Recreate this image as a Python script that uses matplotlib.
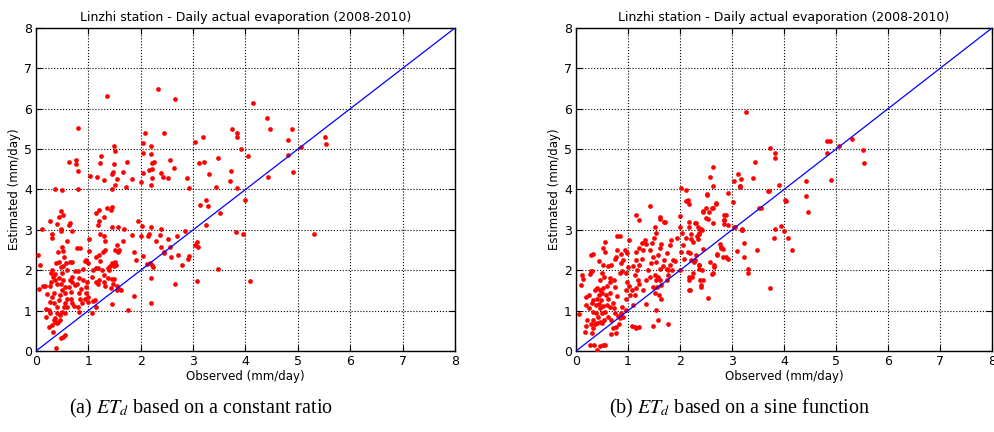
import matplotlib
matplotlib.use("Agg")
import matplotlib.pyplot as plt

# ---------------- data ----------------
title = "Linzhi station - Daily actual evaporation (2008-2010)"
xlabel = "Observed (mm/day)"
ylabel = "Estimated (mm/day)"
captions = [r"(a) $ET_d$ based on a constant ratio", r"(b) $ET_d$ based on a sine function"]
ticks = [0, 1, 2, 3, 4, 5, 6, 7, 8]

# (observed, estimated) pairs, panel (a): constant ratio
points_a = [
    (0.37,4.0),(0.5,3.98),(0.63,4.68),(0.76,4.62),(0.77,4.72),(0.81,4.45),(0.8,5.53),(0.8,4.0),(1.03,4.33),(1.17,4.31),
    (1.25,4.84),(1.23,4.65),(1.29,4.23),(1.36,6.31),(1.45,4.38),(1.49,5.08),(1.5,4.96),(1.49,4.64),(1.48,4.44),(1.5,4.1),
    (1.45,4.02),(1.54,4.25),(1.66,4.44),(1.73,4.69),(1.71,4.07),(1.83,4.25),(2.01,4.19),(2.04,4.4),(2.04,4.9),(2.04,5.15),
    (2.08,5.41),(2.15,4.49),(2.2,5.07),(2.2,4.88),(2.22,4.65),(2.26,4.69),(2.21,4.52),(2.21,4.29),(2.2,4.1),(2.33,6.49),
    (2.38,4.4),(2.43,4.32),(2.45,5.4),(2.52,4.28),(2.55,4.74),(2.65,6.24),(2.64,4.54),(2.89,4.28),(2.93,4.04),(3.04,5.18),
    (3.12,4.66),(3.18,5.31),(3.2,4.68),(3.31,4.38),(3.43,4.06),(3.47,4.78),(3.72,4.45),(3.75,5.5),(3.71,4.21),(3.83,5.41),
    (3.83,5.31),(3.84,4.03),(3.92,5.0),(4.04,4.83),(4.14,6.13),(4.42,5.76),(4.46,5.5),(4.88,5.51),(4.82,5.23),(4.82,4.86),
    (4.91,4.43),(5.06,5.06),(5.52,5.29),(5.54,5.12),(4.43,4.31),
    (4.0,3.74),(3.14,3.61),(3.24,3.73),(3.28,3.58),(3.52,3.41),(3.24,3.13),(3.81,2.95),(3.96,2.91),(5.3,2.89),(3.47,2.04),
    (4.08,1.74),(3.07,1.74),(3.1,2.58),(3.08,2.71),(3.03,2.62),(2.92,2.35),(2.9,2.29),(2.84,2.96),(2.79,2.14),(2.65,1.66),
    (2.71,2.38),(2.69,2.84),(2.58,2.33),(2.53,2.78),(2.56,2.58),(2.45,2.46),(2.39,2.58),(2.44,2.43),(2.38,3.03),(2.37,2.87),
    (2.3,2.72),(2.2,3.07),(2.15,2.89),(2.14,2.85),(2.12,2.15),(2.17,2.17),(2.21,2.13),(2.24,2.07),(2.19,1.8),(2.19,1.19),
    (2.02,3.1),(2.0,2.86),(2.04,2.36),(1.91,2.25),(1.87,1.35),(1.87,2.46),(1.84,2.88),(1.94,3.21),(1.75,1.01),(1.69,3.03),
    (1.67,2.72),(1.59,2.5),(1.57,2.46),(1.55,2.63),(1.5,2.5),(1.46,2.19),(1.5,2.21),(1.53,2.13),(1.49,2.1),(1.42,2.1),
    (1.37,2.06),(1.56,3.08),(1.46,3.08),(1.44,3.49),(1.45,3.57),(1.36,3.54),(1.29,3.32),(1.14,3.42),(1.21,3.48),(1.2,3.22),
    (1.19,3.12),(1.23,2.91),(1.3,2.84),(1.32,2.72),(1.32,2.5),(1.28,2.46),(1.21,2.39),(1.22,2.24),(1.15,2.33),(1.18,2.05),
    (1.14,2.05),(1.02,2.78),(1.01,2.48),(0.96,2.25),(0.93,2.23),(0.99,2.17),(0.89,2.02),(0.75,1.99),(0.81,1.99),(0.78,2.54),
    (0.85,2.55),(0.9,1.76),(0.98,1.71),(1.08,2.0),(1.07,1.84),(1.14,1.71),(1.21,1.77),(1.26,2.0),(1.29,1.88),(1.39,2.0),
    (1.37,1.82),(1.45,1.79),(1.49,1.79),(1.43,1.57),(1.47,1.66),(1.55,1.61),(1.59,1.53),(1.62,1.51),(1.55,1.52),(1.46,1.16),
    (1.31,1.61),(1.29,1.71),(1.18,1.67),(1.12,1.26),(1.09,1.24),(1.15,1.1),(1.07,0.93),(1.0,1.22),(1.0,1.34),(0.95,1.43),
    (0.96,1.59),(0.93,1.3),(0.88,1.18),(0.84,1.29),(0.82,1.43),(0.86,1.53),(0.79,1.67),(0.82,1.8),(0.74,1.63),(0.69,1.71),
    (0.65,1.76),(0.68,1.84),(0.63,1.59),(0.66,1.47),(0.67,1.3),(0.69,1.18),(0.73,1.11),(0.8,1.1),(0.83,0.97),(0.6,1.1),
    (0.56,1.18),(0.6,1.3),(0.56,1.43),(0.56,1.59),(0.52,1.76),(0.5,1.92),(0.47,2.07),(0.52,2.1),(0.58,2.17),(0.64,2.2),
    (0.68,2.2),(0.59,2.0),(0.54,2.33),(0.52,2.48),(0.49,2.58),(0.42,2.46),(0.43,2.21),(0.38,2.19),(0.47,3.03),(0.47,2.98),
    (0.44,3.32),(0.47,3.47),(0.52,3.37),(0.41,3.14),(0.31,2.89),(0.31,2.79),(0.64,3.18),(0.63,3.12),(0.69,2.97),(0.6,2.72),
    (0.26,3.22),(0.12,3.03),(0.03,2.37),(0.08,2.12),(0.05,1.54),(0.13,1.62),(0.17,1.61),(0.21,1.41),(0.2,1.03),(0.24,1.01),
    (0.27,0.93),(0.19,0.85),(0.24,0.6),(0.31,0.64),(0.33,0.48),(0.37,0.82),(0.37,0.73),(0.4,0.95),(0.42,0.71),(0.45,0.89),
    (0.47,0.31),(0.52,0.35),(0.55,0.4),(0.38,0.07),(0.4,0.69),(0.27,1.22),(0.31,1.34),(0.34,1.43),(0.35,1.18),(0.4,1.1),
    (0.43,1.26),(0.45,1.38),(0.5,1.51),(0.47,1.67),(0.37,1.76),(0.33,1.84),(0.29,1.71),(0.26,1.61),(0.4,1.67),(0.43,1.8),
    (0.36,1.9),(0.28,1.92),(0.31,2.0),(0.53,1.1),(0.5,0.97),(0.56,0.93),(0.45,0.77),(0.34,0.77),
]

# (observed, estimated) pairs, panel (b): sine function
points_b = [
    (2.02,4.04),(2.12,3.98),(2.57,4.32),(2.64,4.55),(2.64,4.08),(3.03,4.2),(3.12,4.39),(3.17,4.25),(3.15,4.08),(3.27,5.93),
    (3.41,4.28),(3.45,4.68),(3.74,5.03),(3.82,4.9),(3.82,4.78),(3.9,4.1),(4.43,4.22),(4.82,5.2),(4.89,5.2),(4.82,4.9),
    (5.06,5.07),(5.3,5.25),(5.51,4.97),(5.54,4.66),(4.9,4.23),
    (3.16,4.09),(3.71,3.96),(4.04,3.71),(4.43,3.84),(4.46,3.44),(3.55,3.53),(3.2,3.0),(3.24,2.67),(3.24,2.34),(3.31,2.02),
    (3.31,1.94),(3.49,2.51),(3.73,1.55),(3.8,2.8),(3.83,3.02),(3.95,3.09),(4.0,2.96),(4.08,2.79),(4.15,2.49),
    (2.52,3.89),(2.69,3.66),(2.62,3.55),(2.55,3.45),(2.44,3.46),(2.5,3.3),(2.63,3.18),(2.85,3.38),(2.85,3.24),(2.84,3.14),
    (2.93,3.12),(3.03,3.07),(3.19,3.01),(3.09,2.48),(2.78,2.57),(2.83,2.53),(2.88,2.32),(2.71,2.4),(2.65,2.07),(2.62,1.9),
    (2.53,1.31),(2.4,1.63),(2.44,1.76),(2.36,2.03),(2.37,2.12),(2.18,1.51),(2.18,1.76),(2.24,1.84),(2.26,2.21),(2.2,2.42),
    (2.21,2.78),(2.18,3.08),(2.29,3.16),(2.33,2.85),(2.35,2.77),(2.38,3.02),(2.37,2.93),(2.42,2.99),(2.44,2.52),
    (0.05,0.91),(0.1,1.63),(0.12,1.88),(0.13,1.78),(0.18,0.48),(0.2,0.63),(0.22,0.78),(0.24,1.06),(0.19,1.14),(0.19,1.34),
    (0.25,1.38),(0.26,1.9),(0.28,1.99),(0.31,1.99),(0.29,2.37),(0.33,2.4),(0.26,0.16),(0.34,0.16),(0.4,0.02),(0.46,0.12),
    (0.51,0.14),(0.56,0.16),(0.3,0.44),(0.32,0.56),(0.28,0.68),(0.33,0.77),(0.36,0.67),(0.41,0.7),(0.46,0.73),(0.5,0.7),
    (0.54,0.78),(0.43,0.85),(0.38,0.93),(0.49,0.93),(0.56,0.97),(0.32,0.97),(0.3,1.18),(0.33,1.26),(0.4,1.3),(0.45,1.38),
    (0.5,1.43),(0.36,1.51),(0.41,1.57),(0.46,1.51),(0.52,1.55),(0.38,1.14),(0.45,1.16),(0.47,1.06),(0.52,1.11),(0.48,1.26),
    (0.59,1.14),(0.62,1.3),(0.57,1.38),(0.65,1.43),(0.6,1.61),(0.65,1.71),(0.66,1.8),(0.73,1.76),(0.49,1.92),(0.46,1.76),
    (0.54,1.84),(0.51,2.13),(0.44,2.23),(0.55,2.7),(0.52,2.54),(0.56,2.46),(0.62,2.1),(0.68,2.13),(0.75,2.27),(0.77,2.32),
    (0.79,2.51),(0.79,2.86),(0.84,2.84),(0.87,2.4),(0.86,2.17),(0.91,2.25),(0.89,1.99),(0.94,2.5),(0.98,2.42),(1.02,2.76),
    (0.84,1.92),(0.75,1.59),(0.79,1.36),(0.71,1.2),(0.73,1.07),(0.65,1.1),(0.61,0.85),(0.68,0.78),(0.75,0.93),(0.8,0.87),
    (0.84,0.81),(0.87,0.93),(0.91,0.85),(0.83,0.68),(0.76,0.6),(0.71,0.56),(0.68,0.42),(0.77,0.44),(0.97,1.01),(0.96,1.3),
    (0.89,1.1),(0.97,1.51),(1.02,1.61),(0.98,1.71),(0.97,1.92),(0.99,2.07),(1.1,2.1),(1.15,2.25),(1.16,2.46),(1.21,2.54),
    (1.15,3.36),(1.21,3.24),(1.26,2.68),(1.32,2.76),(1.35,2.66),(1.29,2.5),(1.26,2.29),(1.21,2.13),(1.18,2.0),(1.13,1.88),
    (1.19,1.76),(1.22,1.65),(1.16,1.55),(1.07,1.51),(1.03,1.38),(1.13,1.38),(1.1,1.14),(1.22,0.6),(1.16,0.56),(1.13,0.6),
    (1.08,0.63),(1.29,1.51),(1.34,1.16),(1.35,1.76),(1.42,1.84),(1.38,2.0),(1.45,2.17),(1.48,2.33),(1.42,2.5),(1.47,2.68),
    (1.5,2.79),(1.53,2.93),(1.51,3.08),(1.42,3.59),(1.61,3.26),(1.62,3.31),(1.69,3.2),(1.72,3.2),(1.64,2.66),(1.61,2.54),
    (1.58,2.37),(1.54,2.21),(1.61,2.04),(1.67,2.1),(1.74,2.04),(1.69,2.25),(1.74,2.42),(1.8,2.62),(1.83,2.76),(1.86,2.25),
    (1.9,2.23),(1.8,2.13),(1.51,1.88),(1.58,1.84),(1.53,1.76),(1.61,1.76),(1.64,1.63),(1.56,1.59),(1.48,1.59),(1.51,1.43),
    (1.59,1.38),(1.64,1.3),(1.53,1.01),(1.48,0.63),(1.58,0.78),(1.76,0.67),(1.76,1.88),(1.74,1.76),(1.77,2.0),(1.85,2.0),
    (1.94,2.81),(1.99,3.08),(2.0,3.34),
    (2.16,3.73),(2.18,3.64),(2.12,3.72),(2.04,2.93),(2.05,2.62),(2.02,2.46),(2.12,2.79),(2.17,3.2),(2.21,2.89),(2.25,2.7),
    (2.3,3.16),(2.34,3.08),(2.37,2.91),(2.41,3.03),(2.44,3.45),(2.5,3.53),(2.53,3.28),(2.51,3.86),(2.63,3.53),(2.69,3.65),
    (2.76,2.66),(2.79,2.54),(2.85,3.24),(2.88,3.36),(2.92,2.29),(2.93,3.92),(3.01,3.69),(3.06,3.08),(3.15,4.06),(3.2,2.99),
    (3.52,3.53),(3.7,3.96),(4.02,3.73),(1.99,2.0),(2.07,2.29),(2.16,2.46),(2.19,1.51),(2.17,1.84),(2.25,1.92),(2.28,2.25),
    (2.36,2.13),(2.39,1.76),(2.41,1.59),(2.43,2.0),(2.58,2.21),(2.63,1.92),(2.66,2.13),(2.72,2.37),(2.82,2.33),(2.31,2.37),
    (2.21,2.25),
]

# ---------------- figure ----------------
plt.rcParams['mathtext.fontset'] = 'stix'
fig = plt.figure(figsize=(9.94, 4.32), dpi=100)
axes_pos = [[0.0362, 0.1875, 0.4215, 0.7477], [0.5795, 0.1875, 0.4185, 0.7477]]
datasets = [points_a, points_b]

for pos, pts, cap in zip(axes_pos, datasets, captions):
    ax = fig.add_axes(pos)
    xo = [p[0] for p in pts]
    ye = [p[1] for p in pts]
    ax.plot(xo, ye, 'o', color='red', ms=3.4, mew=0, zorder=3)
    ax.plot([ticks[0], ticks[-1]], [ticks[0], ticks[-1]], color='blue', lw=0.9, zorder=4)
    ax.set_xlim(0, 8)
    ax.set_ylim(0, 8)
    ax.set_xticks(ticks)
    ax.set_yticks(ticks)
    ax.grid(True, color='black', linestyle=':', linewidth=0.8)
    ax.tick_params(direction='in', top=True, right=True, length=4, labelsize=9, pad=3)
    ax.set_title(title, fontsize=9, pad=5)
    ax.set_xlabel(xlabel, fontsize=8.5, labelpad=1)
    ax.set_ylabel(ylabel, fontsize=8.5, labelpad=2)
    for s in ax.spines.values():
        s.set_linewidth(1.0)
    cx = pos[0] + pos[2] / 2
    fig.text(cx - 0.045, 0.055, cap, ha='center', va='center', fontsize=14.5,
             family='Liberation Serif')

fig.savefig("out.png", dpi=100)
